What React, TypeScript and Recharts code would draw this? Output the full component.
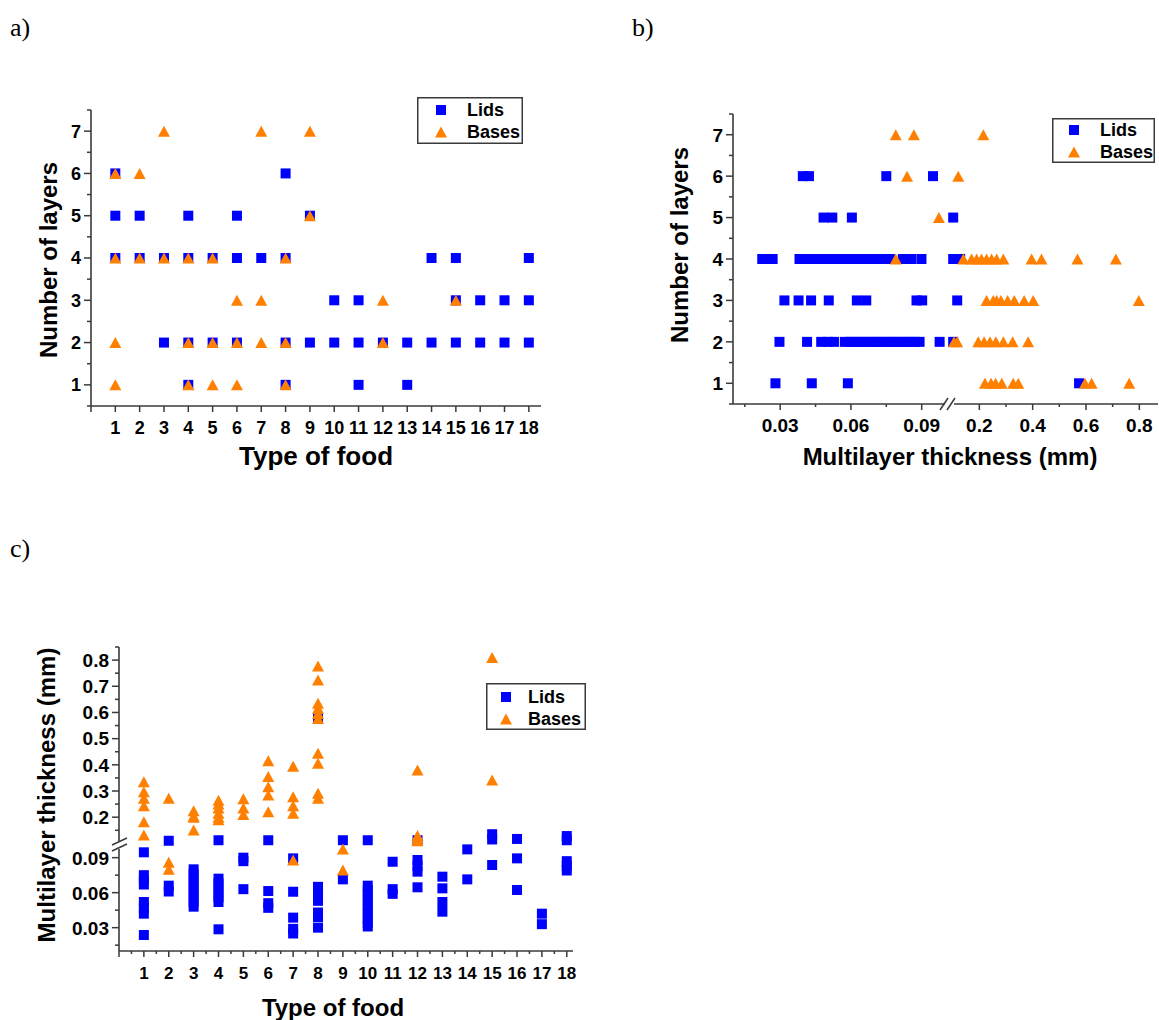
import React from "react";
import { ScatterChart, Scatter, XAxis, YAxis, Legend } from "recharts";

const BLUE = "#0000ff";
const ORANGE = "#ff8000";
const AXIS = "#3a3a3a";
const SANS = "'Liberation Sans', Arial, sans-serif";
const SERIF = "'Liberation Serif', 'Times New Roman', serif";
const BREAK = 0.1;
const SERIES = ["Lids", "Bases"];

// ---- a) number of layers per type of food
const foodTypes = [1, 2, 3, 4, 5, 6, 7, 8, 9, 10, 11, 12, 13, 14, 15, 16, 17, 18];
const lidLayers = [
  [6, 5, 4], [5, 4], [4, 2], [5, 4, 2, 1], [4, 2], [5, 4, 2], [4], [6, 4, 2, 1], [5, 2],
  [3, 2], [3, 2, 1], [2], [2, 1], [4, 2], [4, 3, 2], [3, 2], [3, 2], [4, 3, 2],
];
const baseLayers = [
  [6, 4, 2, 1], [6, 4], [7, 4], [4, 2, 1], [4, 2, 1], [3, 2, 1], [7, 3, 2], [4, 2, 1], [7, 5],
  [], [], [3, 2], [], [], [3], [], [], [],
];

// ---- b) thickness (mm) per number of layers
const layerCounts = [1, 2, 3, 4, 5, 6, 7];
const lidThicknessByLayers = [
  [0.028, 0.0434, 0.0587, 0.574],
  [0.0297, 0.0414, 0.0474, 0.0502, 0.0528, 0.0574, 0.0596, 0.0618, 0.064, 0.066, 0.0682, 0.0703,
    0.0722, 0.0745, 0.0766, 0.0787, 0.0808, 0.083, 0.0851, 0.087, 0.0891, 0.0976, 0.102],
  [0.0318, 0.0378, 0.0431, 0.0506, 0.0625, 0.0665, 0.0878, 0.0902, 0.117],
  [0.0224, 0.0245, 0.0268, 0.0382, 0.0421, 0.0446, 0.0468, 0.049, 0.0511, 0.0532, 0.0553, 0.0575,
    0.0596, 0.0618, 0.0637, 0.0659, 0.068, 0.0702, 0.0722, 0.0744, 0.0765, 0.082, 0.0856, 0.0899,
    0.102, 0.128],
  [0.0484, 0.0521, 0.0604, 0.102],
  [0.0396, 0.0422, 0.075, 0.0948],
  [],
];
const baseThicknessByLayers = [
  [0.221, 0.244, 0.261, 0.284, 0.327, 0.346, 0.596, 0.621, 0.762],
  [0.105, 0.117, 0.196, 0.218, 0.24, 0.262, 0.29, 0.325, 0.383],
  [0.227, 0.252, 0.265, 0.281, 0.306, 0.331, 0.368, 0.402, 0.798],
  [0.079, 0.14, 0.171, 0.19, 0.208, 0.227, 0.246, 0.265, 0.29, 0.396, 0.433, 0.568, 0.712],
  [0.0973],
  [0.0838, 0.121],
  [0.079, 0.0867, 0.215],
];

// ---- c) thickness (mm) per type of food
const lidThicknessByFood = [
  [0.0946, 0.075, 0.071, 0.067, 0.052, 0.047, 0.042, 0.0237],
  [0.11, 0.066, 0.061],
  [0.08, 0.076, 0.072, 0.068, 0.064, 0.06, 0.056, 0.052, 0.048],
  [0.112, 0.072, 0.068, 0.064, 0.06, 0.056, 0.052, 0.0286],
  [0.09, 0.087, 0.063],
  [0.112, 0.0614, 0.051, 0.047],
  [0.0894, 0.0608, 0.0386, 0.029, 0.025],
  [0.577, 0.065, 0.061, 0.057, 0.053, 0.043, 0.039, 0.03],
  [0.112, 0.0714],
  [0.112, 0.066, 0.062, 0.058, 0.054, 0.05, 0.046, 0.042, 0.038, 0.034, 0.031],
  [0.0865, 0.063, 0.059],
  [0.112, 0.088, 0.083, 0.078, 0.0646],
  [0.0737, 0.0637, 0.052, 0.0437],
  [0.0971, 0.0714],
  [0.135, 0.115, 0.0837],
  [0.117, 0.0894, 0.0623],
  [0.042, 0.033],
  [0.128, 0.112, 0.087, 0.083, 0.079],
];
const baseThicknessByFood = [
  [0.335, 0.297, 0.272, 0.244, 0.183, 0.132],
  [0.272, 0.086, 0.08],
  [0.225, 0.205, 0.2, 0.151],
  [0.265, 0.25, 0.235, 0.215, 0.2, 0.19],
  [0.27, 0.235, 0.21],
  [0.416, 0.355, 0.316, 0.285, 0.221],
  [0.395, 0.278, 0.244, 0.215, 0.088],
  [0.777, 0.724, 0.635, 0.616, 0.596, 0.577, 0.444, 0.406, 0.291, 0.272],
  [0.0974, 0.0794],
  [], [],
  [0.38, 0.13, 0.12, 0.11],
  [], [],
  [0.81, 0.342],
  [], [], [],
];

// ---- ticks
const foodTicksA = [0, ...foodTypes];
const foodTicksC = [0, 0.5, 1, 1.5, 2, 2.5, 3, 3.5, 4, 4.5, 5, 5.5, 6, 6.5, 7, 7.5, 8, 8.5, 9, 9.5,
  10, 10.5, 11, 11.5, 12, 12.5, 13, 13.5, 14, 14.5, 15, 15.5, 16, 16.5, 17, 17.5, 18];
const layerTicks = [0.5, 1, 1.5, 2, 2.5, 3, 3.5, 4, 4.5, 5, 5.5, 6, 6.5, 7, 7.5];
const thinTicks = [0.015, 0.03, 0.045, 0.06, 0.075, 0.09];
const thinMajors = [0.03, 0.06, 0.09];
const thickTicksB = [0.2, 0.3, 0.4, 0.5, 0.6, 0.7, 0.8];
const thickMajorsB = [0.2, 0.4, 0.6, 0.8];
const thickTicksC = [0.15, 0.2, 0.25, 0.3, 0.35, 0.4, 0.45, 0.5, 0.55, 0.6, 0.65, 0.7, 0.75, 0.8, 0.85];
const thickMajorsC = [0.2, 0.3, 0.4, 0.5, 0.6, 0.7, 0.8];

const byKey = (keys: number[], groups: number[][]) =>
  keys.flatMap((k, i) => groups[i].map((v) => ({ x: k, y: v })));
const byValue = (keys: number[], groups: number[][]) =>
  keys.flatMap((k, i) => groups[i].map((v) => ({ x: v, y: k })));

const lidsA = byKey(foodTypes, lidLayers);
const basesA = byKey(foodTypes, baseLayers);
const lidsB = byValue(layerCounts, lidThicknessByLayers);
const basesB = byValue(layerCounts, baseThicknessByLayers);
const lidsC = byKey(foodTypes, lidThicknessByFood);
const basesC = byKey(foodTypes, baseThicknessByFood);

const square = (cx: number, cy: number) => (
  <rect x={cx - 5} y={cy - 5} width={10} height={10} fill={BLUE} />
);
const triangle = (cx: number, cy: number) => (
  <polygon points={`${cx},${cy - 5.5} ${cx + 6},${cy + 5.5} ${cx - 6},${cy + 5.5}`} fill={ORANGE} />
);
const SquareShape = (p: any) => square(p.cx, p.cy);
const TriangleShape = (p: any) => triangle(p.cx, p.cy);

const near = (v: number, list: number[]) => list.some((m) => Math.abs(m - v) < 1e-9);

const makeXTick = (majors: number[], labelled: number[], fs: number) => (t: any) => {
  const v = t.payload.value;
  const major = near(v, majors);
  return (
    <g>
      <line x1={t.x} x2={t.x} y1={t.y} y2={t.y + (major ? 6 : 3)} stroke={AXIS} strokeWidth={1.5} />
      {near(v, labelled) && (
        <text x={t.x} y={t.y + 28} textAnchor="middle" fontFamily={SANS} fontWeight="bold" fontSize={fs} fill="#000">
          {String(v)}
        </text>
      )}
    </g>
  );
};

const makeYTick = (majors: number[], fs: number) => (t: any) => {
  const v = t.payload.value;
  const major = near(v, majors);
  return (
    <g>
      <line x1={t.x} x2={t.x - (major ? 7 : 4)} y1={t.y} y2={t.y} stroke={AXIS} strokeWidth={1.5} />
      {major && (
        <text x={t.x - 10} y={t.y} dy="0.36em" textAnchor="end" fontFamily={SANS} fontWeight="bold" fontSize={fs} fill="#000">
          {String(v)}
        </text>
      )}
    </g>
  );
};

type Box = { x: number; y: number; w: number; h: number; mx: number; tx: number; r1: number; r2: number };

const makeLegend = (b: Box) => (props: any) => {
  const items = [...(props.payload || [])].sort(
    (a: any, c: any) => SERIES.indexOf(a.value) - SERIES.indexOf(c.value)
  );
  return (
    <svg width={b.w} height={b.h} style={{ display: "block" }}>
      <rect x={0.75} y={0.75} width={b.w - 1.5} height={b.h - 1.5} fill="#fff" stroke={AXIS} strokeWidth={1.5} />
      {items.map((it: any, i: number) => {
        const cy = i === 0 ? b.r1 : b.r2;
        return (
          <g key={it.value}>
            {it.type === "triangle" ? triangle(b.mx, cy) : square(b.mx, cy)}
            <text x={b.tx} y={cy} dy="0.36em" fontFamily={SANS} fontWeight="bold" fontSize={18} fill="#000">
              {it.value}
            </text>
          </g>
        );
      })}
    </svg>
  );
};

type PlotProps = {
  l: number; t: number; w: number; h: number;
  xDomain: number[]; yDomain: number[];
  xTicks?: number[]; xTick?: any; yTicks?: number[]; yTick?: any;
  showX: boolean; showY: boolean;
  lids: any[]; bases: any[];
  legend?: Box;
};

function Plot(p: PlotProps) {
  const ML = p.showY ? 0 : 20;
  const YW = p.showY ? 90 : 0;
  const MT = 20, MR = 15;
  const XH = p.showX ? 70 : 0;
  const MB = p.showX ? 0 : 20;
  const left = p.l - ML - YW;
  const top = p.t - MT;
  return (
    <div style={{ position: "absolute", left, top }}>
      <ScatterChart
        width={ML + YW + p.w + MR}
        height={MT + p.h + XH + MB}
        margin={{ top: MT, right: MR, bottom: MB, left: ML }}
      >
        <XAxis
          type="number"
          dataKey="x"
          domain={p.xDomain}
          hide={!p.showX}
          height={XH}
          ticks={p.xTicks}
          interval={0}
          tickSize={0}
          tickMargin={0}
          tickLine={false}
          axisLine={{ stroke: AXIS, strokeWidth: 1.6 }}
          tick={p.xTick}
        />
        <YAxis
          type="number"
          dataKey="y"
          domain={p.yDomain}
          hide={!p.showY}
          width={YW}
          ticks={p.yTicks}
          interval={0}
          tickSize={0}
          tickMargin={0}
          tickLine={false}
          axisLine={{ stroke: AXIS, strokeWidth: 1.6 }}
          tick={p.yTick}
        />
        <Scatter name="Lids" data={p.lids} fill={BLUE} legendType="square" shape={SquareShape} isAnimationActive={false} />
        <Scatter name="Bases" data={p.bases} fill={ORANGE} legendType="triangle" shape={TriangleShape} isAnimationActive={false} />
        {p.legend && (
          <Legend
            layout="vertical"
            align="center"
            verticalAlign="middle"
            content={makeLegend(p.legend)}
            wrapperStyle={{ left: p.legend.x - left, top: p.legend.y - top, width: p.legend.w, height: p.legend.h }}
          />
        )}
      </ScatterChart>
    </div>
  );
}

const low = (pts: any[], key: "x" | "y") => pts.filter((d) => d[key] < BREAK);
const high = (pts: any[], key: "x" | "y") => pts.filter((d) => d[key] >= BREAK);

export default function App() {
  return (
    <div style={{ position: "absolute", left: 0, top: 0, width: 1159, height: 1020, overflow: "hidden", background: "#fff" }}>
      {/* a) */}
      <Plot
        l={91} t={110} w={450} h={296}
        xDomain={[0, 18.5]} yDomain={[0.5, 7.5]}
        xTicks={foodTicksA} xTick={makeXTick(foodTicksA, foodTypes, 18)}
        yTicks={layerTicks} yTick={makeYTick(layerCounts, 18)}
        showX showY
        lids={lidsA} bases={basesA}
        legend={{ x: 417, y: 97, w: 106, h: 47, mx: 24, tx: 50, r1: 13, r2: 35 }}
      />

      {/* b) left part of broken axis */}
      <Plot
        l={733} t={114} w={217} h={290}
        xDomain={[0.01, 0.102]} yDomain={[0.5, 7.5]}
        xTicks={thinTicks} xTick={makeXTick(thinMajors, thinMajors, 19)}
        yTicks={layerTicks} yTick={makeYTick(layerCounts, 19)}
        showX showY
        lids={low(lidsB, "x")} bases={low(basesB, "x")}
      />
      {/* b) right part of broken axis */}
      <Plot
        l={950} t={114} w={208} h={290}
        xDomain={[0.09, 0.87]} yDomain={[0.5, 7.5]}
        xTicks={thickTicksB} xTick={makeXTick(thickMajorsB, thickMajorsB, 19)}
        showX showY={false}
        lids={high(lidsB, "x")} bases={high(basesB, "x")}
        legend={{ x: 1052, y: 118, w: 103, h: 45, mx: 22, tx: 48, r1: 12, r2: 34 }}
      />

      {/* c) upper part of broken axis */}
      <Plot
        l={119} t={647} w={454} h={199}
        xDomain={[0, 18.25]} yDomain={[0.09, 0.85]}
        yTicks={thickTicksC} yTick={makeYTick(thickMajorsC, 19)}
        showX={false} showY
        lids={high(lidsC, "y")} bases={high(basesC, "y")}
        legend={{ x: 486, y: 683, w: 100, h: 47, mx: 20, tx: 42, r1: 14, r2: 36 }}
      />
      {/* c) lower part of broken axis */}
      <Plot
        l={119} t={846} w={454} h={105}
        xDomain={[0, 18.25]} yDomain={[0.01, 0.1]}
        xTicks={foodTicksC} xTick={makeXTick([0, ...foodTypes], foodTypes, 17)}
        yTicks={thinTicks} yTick={makeYTick(thinMajors, 19)}
        showX showY
        lids={low(lidsC, "y")} bases={low(basesC, "y")}
      />

      <svg width={1159} height={1020} style={{ position: "absolute", left: 0, top: 0, pointerEvents: "none" }}>
        <g fontFamily={SERIF} fontSize={26} fill="#000">
          <text x={10} y={36}>a)</text>
          <text x={632} y={36}>b)</text>
          <text x={10} y={557}>c)</text>
        </g>
        <g fontFamily={SANS} fontWeight="bold" fontSize={24} fill="#000">
          <text x={316} y={465} textAnchor="middle" fontSize={26}>Type of food</text>
          <text x={950} y={465} textAnchor="middle">Multilayer thickness (mm)</text>
          <text x={333} y={1016} textAnchor="middle">Type of food</text>
          <text transform="translate(57,260) rotate(-90)" textAnchor="middle">Number of layers</text>
          <text transform="translate(688,245) rotate(-90)" textAnchor="middle">Number of layers</text>
          <text transform="translate(55,795) rotate(-90)" textAnchor="middle">Multilayer thickness (mm)</text>
        </g>
        {/* axis break marks */}
        <rect x={945} y={401} width={9} height={6} fill="#fff" />
        <line x1={940} y1={410} x2={948} y2={398} stroke={AXIS} strokeWidth={1.5} />
        <line x1={947} y1={410} x2={955} y2={398} stroke={AXIS} strokeWidth={1.5} />
        <rect x={116} y={841} width={6} height={8} fill="#fff" />
        <line x1={112} y1={845} x2={127} y2={838} stroke={AXIS} strokeWidth={1.5} />
        <line x1={112} y1={851} x2={127} y2={844} stroke={AXIS} strokeWidth={1.5} />
      </svg>
    </div>
  );
}
